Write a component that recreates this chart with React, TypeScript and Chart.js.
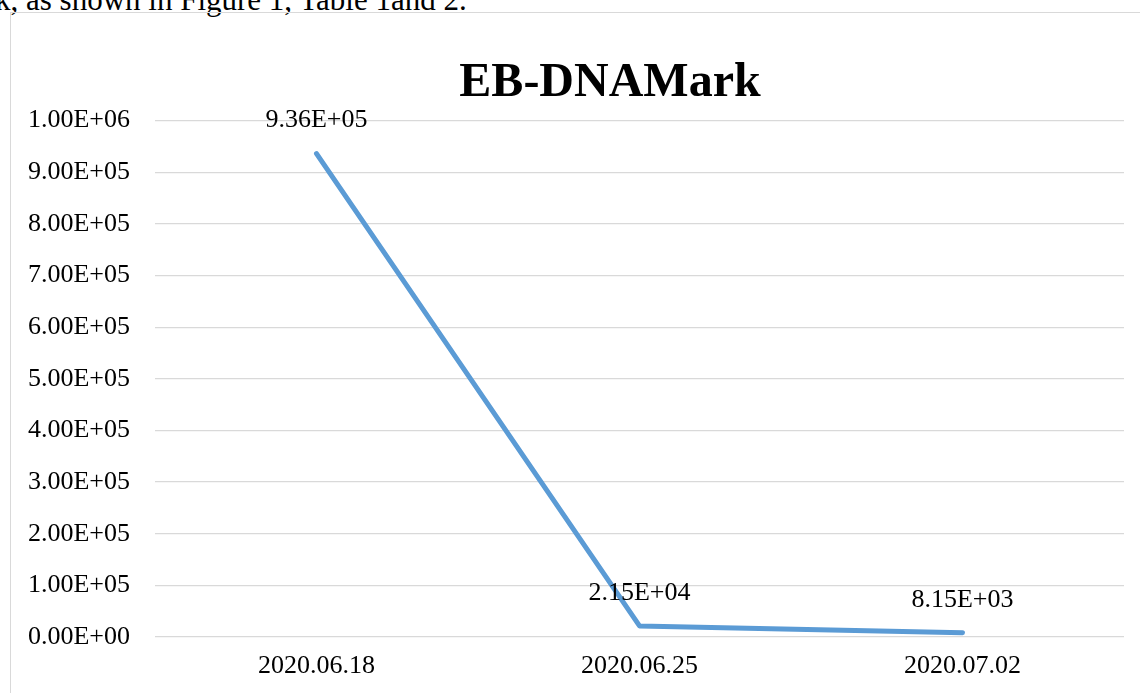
import React, { useEffect, useRef } from "react";
import { Chart, registerables } from "chart.js";

Chart.register(...registerables);

const categories = ["2020.06.18", "2020.06.25", "2020.07.02"];
const values = [936000, 21500, 8150];
const valueLabels = ["9.36E+05", "2.15E+04", "8.15E+03"];
const yMin = 0;
const yMax = 1000000;
const yStep = 100000;
const titleText = "EB-DNAMark";
const bodyText = "k, as shown in Figure 1, Table 1and 2.";

const FONT = '"Liberation Serif", "Times New Roman", serif';

function sci(v: number): string {
  const s = v.toExponential(2);
  const [m, e] = s.split("e");
  const sign = e.startsWith("-") ? "-" : "+";
  const digits = e.replace(/^[+-]/, "").padStart(2, "0");
  return `${m}E${sign}${digits}`;
}

const dataLabelPlugin = {
  id: "dataLabels",
  afterDatasetsDraw(chart: any) {
    const meta = chart.getDatasetMeta(0);
    const ctx = chart.ctx;
    ctx.save();
    ctx.font = `26px ${FONT}`;
    ctx.fillStyle = "#000";
    ctx.textAlign = "center";
    ctx.textBaseline = "middle";
    meta.data.forEach((pt: any, i: number) => {
      ctx.fillText(valueLabels[i], pt.x, pt.y - 33);
    });
    ctx.restore();
  },
};

// center the title on the whole chart box rather than the padded layout area
const titleCenterPlugin = {
  id: "titleCenter",
  afterLayout(chart: any) {
    const t = chart.titleBlock;
    if (!t) return;
    const half = (t.right - t.left) / 2;
    t.left = chart.width / 2 - half;
    t.right = chart.width / 2 + half;
  },
};

export default function App() {
  const ref = useRef<HTMLCanvasElement | null>(null);
  useEffect(() => {
    if (!ref.current) return;
    const chart = new Chart(ref.current, {
      type: "line",
      data: {
        labels: categories,
        datasets: [
          {
            data: values,
            borderColor: "#5b9bd5",
            borderWidth: 5,
            pointRadius: 0,
            tension: 0,
            borderCapStyle: "round",
            borderJoinStyle: "round",
            fill: false,
          },
        ],
      },
      options: {
        animation: false,
        responsive: false,
        layout: { padding: { left: 0, right: 85, top: 0, bottom: 0 } },
        plugins: {
          legend: { display: false },
          tooltip: { enabled: false },
          title: {
            display: true,
            text: titleText,
            color: "#000",
            font: { family: FONT, size: 48, weight: "bold" },
            padding: { top: 42, bottom: 8 },
          },
        },
        scales: {
          x: {
            offset: true,
            grid: { display: false, drawTicks: false },
            border: { display: false },
            ticks: {
              color: "#000",
              font: { family: FONT, size: 26 },
              padding: 14,
              maxRotation: 0,
            },
            afterFit: (s: any) => {
              s.height = 56;
            },
          },
          y: {
            min: yMin,
            max: yMax,
            grid: { color: "#d9d9d9", lineWidth: 1.3, drawTicks: false },
            border: { display: false },
            ticks: {
              stepSize: yStep,
              color: "#000",
              font: { family: FONT, size: 26 },
              padding: 25,
              callback: (v: any) => sci(Number(v)),
            },
            afterFit: (s: any) => {
              s.width = 144;
            },
          },
        },
      },
      plugins: [dataLabelPlugin, titleCenterPlugin],
    });
    return () => chart.destroy();
  }, []);

  return (
    <div
      style={{
        position: "fixed",
        left: 0,
        top: 0,
        width: 1140,
        height: 693,
        overflow: "hidden",
        background: "#fff",
      }}
    >
      <div
        style={{
          position: "absolute",
          left: -5,
          top: -16,
          fontFamily: FONT,
          fontSize: 31,
          lineHeight: "31px",
          whiteSpace: "nowrap",
          color: "#000",
        }}
      >
        {bodyText}
      </div>
      <div
        style={{
          position: "absolute",
          left: 10,
          top: 12,
          width: 1260,
          height: 800,
          border: "1px solid #d9d9d9",
          boxSizing: "border-box",
        }}
      >
        <canvas
          ref={ref}
          width={1198}
          height={680}
          style={{ display: "block", width: 1198, height: 680 }}
        />
      </div>
    </div>
  );
}
